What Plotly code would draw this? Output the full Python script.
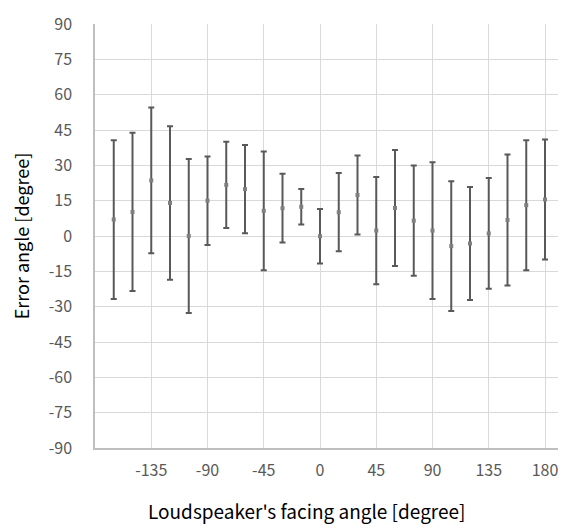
import plotly.graph_objects as go

angles = [-165, -150, -135, -120, -105, -90, -75, -60, -45, -30, -15, 0,
          15, 30, 45, 60, 75, 90, 105, 120, 135, 150, 165, 180]
mean_error = [7.0, 10.2, 23.6, 14.0, 0.0, 15.0, 21.7, 19.9, 10.7, 11.8, 12.4, -0.1,
              10.1, 17.4, 2.3, 11.9, 6.5, 2.3, -4.3, -3.2, 1.1, 6.8, 13.1, 15.5]
sd_error = [33.7, 33.6, 30.9, 32.6, 32.7, 18.8, 18.3, 18.7, 25.2, 14.6, 7.5, 11.6,
            16.6, 16.8, 22.8, 24.6, 23.4, 29.0, 27.5, 24.0, 23.5, 27.8, 27.6, 25.5]
x_ticks = [-135, -90, -45, 0, 45, 90, 135, 180]
y_ticks = list(range(-90, 91, 15))
x_ticktext = [str(v) for v in x_ticks]
y_ticktext = [str(v) for v in y_ticks]
x_title = "Loudspeaker's facing angle [degree]"
y_title = "Error angle [degree]"

font_family = "Noto Sans CJK JP"
fig = go.Figure()
fig.add_trace(go.Scatter(
    x=angles, y=mean_error, mode="markers",
    marker=dict(symbol="square", size=4, color="#7f7f7f"),
    error_y=dict(type="data", array=sd_error, visible=True,
                 color="#595959", thickness=2, width=3),
    showlegend=False,
))
# page body has an 8px default margin, so the figure is sized/offset to fit
fig.update_layout(
    width=558, height=517,
    margin=dict(l=87, r=1, t=16, b=77),
    plot_bgcolor="white", paper_bgcolor="white",
    font=dict(family=font_family, color="#595959", size=16),
    xaxis=dict(range=[-180, 196], tickvals=x_ticks, ticktext=x_ticktext,
               showgrid=True, automargin=False,
               gridcolor="#d9d9d9", gridwidth=1, zeroline=False,
               showline=True, linecolor="#bfbfbf", linewidth=1.5,
               ticklabelstandoff=7,
               tickfont=dict(size=16, color="#595959")),
    yaxis=dict(range=[-90, 90], tickvals=y_ticks, ticktext=y_ticktext,
               showgrid=True, automargin=False,
               gridcolor="#d9d9d9", gridwidth=1, zeroline=False,
               showline=True, linecolor="#bfbfbf", linewidth=1.5,
               ticklabelstandoff=18,
               tickfont=dict(size=16, color="#595959"),
               title=dict(text=y_title,
                          font=dict(size=18, color="#000000"), standoff=23)),
    annotations=[dict(text=x_title, xref="paper", yref="paper",
                      x=0.451, y=0, xanchor="center", yanchor="middle",
                      yshift=-62, showarrow=False, borderpad=0,
                      font=dict(size=19, color="#000000", family=font_family))],
)
fig.write_html("out.html")
